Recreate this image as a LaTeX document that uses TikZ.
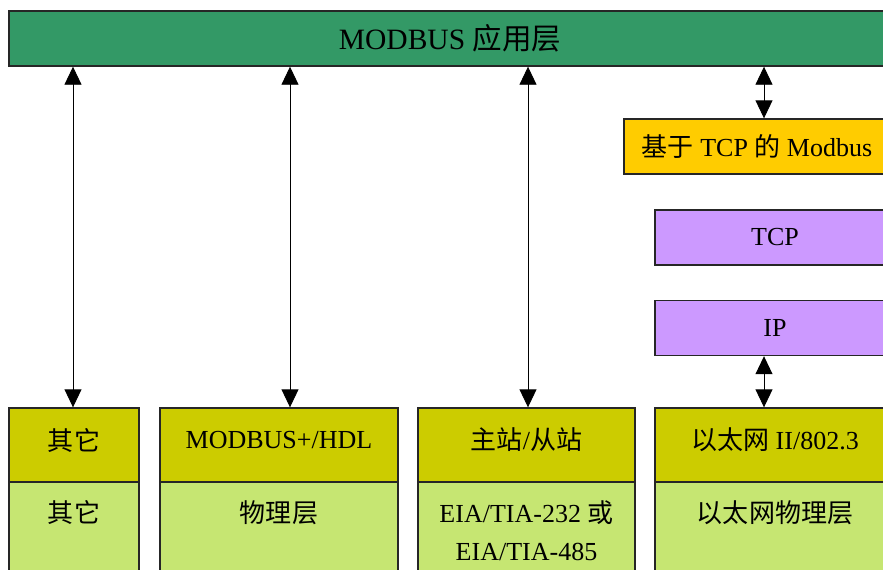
\documentclass[tikz,border=0pt]{standalone}
\usepackage{fontspec}
\setmainfont{Liberation Serif}
\newfontfamily\cjk{Noto Sans CJK SC}
\usepackage{xcolor}
\usepackage{tikz}
\usetikzlibrary{arrows.meta}
\usetikzlibrary{calc}
\definecolor{appgreen}{RGB}{51,153,102}
\definecolor{tcpyellow}{RGB}{255,204,0}
\definecolor{netpurple}{RGB}{204,153,255}
\definecolor{linkolive}{RGB}{204,204,0}
\definecolor{phylime}{RGB}{198,230,114}

\begin{document}
\begin{tikzpicture}[x=0.02cm, y=-0.02cm]
                \tikzstyle{layer}  = [rectangle, draw=black!85, line width=0.8pt, inner sep=0pt, font=\fontsize{14.8}{21.6}\selectfont]
                \tikzstyle{txt}  = [inner sep=0pt, align=center, font=\fontsize{14.8}{21.6}\selectfont]
                \tikzstyle{link}  = [{Triangle[length=0.36cm, width=0.34cm]}-{Triangle[length=0.36cm, width=0.34cm]}, line width=0.5pt]
                \useasboundingbox (0,0) rectangle (883,569);
                \clip (0,0) rectangle (883,569);
                \node [layer, fill=appgreen, minimum width=17.64cm, minimum height=1.1cm, font=\fontsize{16.8}{20}\selectfont](app) at (450, 38.5) {MODBUS {\cjk 应用层}};
                \node [layer, fill=tcpyellow, minimum width=5.32cm, minimum height=1.1cm](mb) at (757, 146.5) {{\cjk 基于} TCP {\cjk 的} Modbus};
                \node [layer, fill=netpurple, minimum width=4.8cm, minimum height=1.1cm](tcp) at (775, 237.5) {TCP};
                \node [layer, fill=netpurple, minimum width=4.8cm, minimum height=1.1cm](ip) at (775, 328) {IP};
                %%Upper row
                \node [layer, fill=linkolive, minimum width=2.6cm, minimum height=1.48cm](u1) at (74, 445) {};
                \node [layer, fill=linkolive, minimum width=4.76cm, minimum height=1.48cm](u2) at (279, 445) {};
                \node [layer, fill=linkolive, minimum width=4.34cm, minimum height=1.48cm](u3) at (526.5, 445) {};
                \node [layer, fill=linkolive, minimum width=4.8cm, minimum height=1.48cm](u4) at (775, 445) {};
                \node [txt](s1) at ($(u1)-(0,5)$) {\cjk 其它};
                \node [txt](s2) at ($(u2)-(0,5)$) {MODBUS+/HDL};
                \node [txt](s3) at ($(u3)-(0,5)$) {{\cjk 主站}/{\cjk 从站}};
                \node [txt](s4) at ($(u4)-(0,5)$) {{\cjk 以太网} II/802.3};
                %%Lower row
                \node [layer, fill=phylime, minimum width=2.6cm, minimum height=3.16cm](l1) at (74, 561) {};
                \node [layer, fill=phylime, minimum width=4.76cm, minimum height=3.16cm](l2) at (279, 561) {};
                \node [layer, fill=phylime, minimum width=4.34cm, minimum height=3.16cm](l3) at (526.5, 561) {};
                \node [layer, fill=phylime, minimum width=4.8cm, minimum height=3.16cm](l4) at (775, 561) {};
                \node [txt, anchor=north](p1) at ($(l1.north)+(0,19)$) {\cjk 其它};
                \node [txt, anchor=north](p2) at ($(l2.north)+(0,19)$) {\cjk 物理层};
                \node [txt, anchor=north](p3) at ($(l3.north)+(0,19)$) {EIA/TIA-232 {\cjk 或}\\EIA/TIA-485};
                \node [txt, anchor=north](p4) at ($(l4.north)+(0,19)$) {\cjk 以太网物理层};
                \coordinate (a1) at (73, 408);
                \coordinate (a2) at (290, 408);
                \coordinate (a3) at (528, 408);
                \coordinate (a4) at (764, 408);
                %%Edges
                \draw [link](app.south -| a1)--(u1.north -| a1);
                \draw [link](app.south -| a2)--(u2.north -| a2);
                \draw [link](app.south -| a3)--(u3.north -| a3);
                \draw [link](app.south -| a4)--(mb.north -| a4);
                \draw [link](ip.south -| a4)--(u4.north -| a4);
\end{tikzpicture}
\end{document}
